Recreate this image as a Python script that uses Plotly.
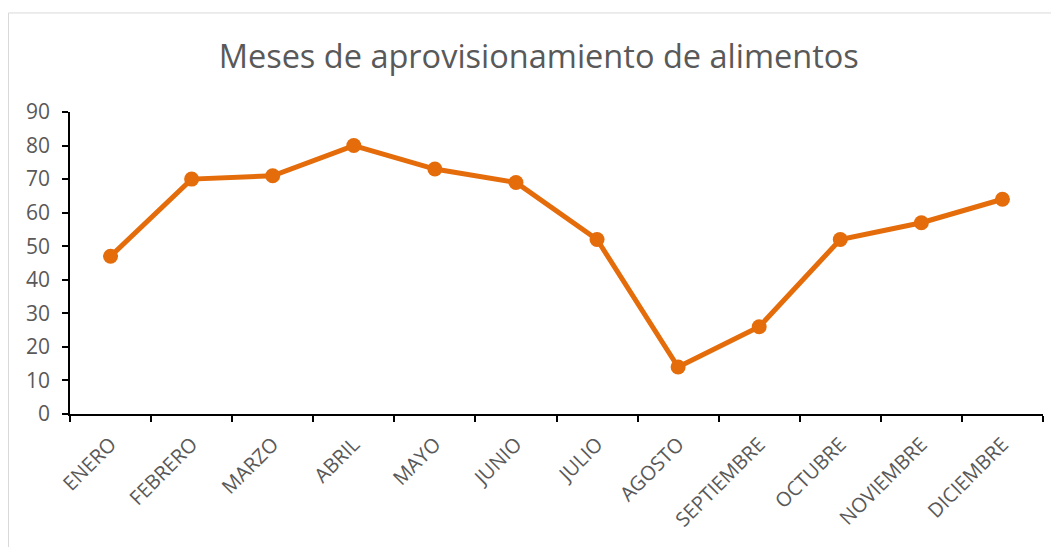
import plotly.graph_objects as go

months = [
    "ENERO", "FEBRERO", "MARZO", "ABRIL", "MAYO", "JUNIO",
    "JULIO", "AGOSTO", "SEPTIEMBRE", "OCTUBRE", "NOVIEMBRE", "DICIEMBRE",
]
values = [47, 70, 71, 80, 73, 69, 52, 14, 26, 52, 57, 64]
y_ticks = [0, 10, 20, 30, 40, 50, 60, 70, 80, 90]

fig = go.Figure()

fig.add_trace(
    go.Scatter(
        x=months,
        y=values,
        mode="lines+markers",
        line={"color": "#E46C0A", "width": 5},
        marker={"color": "#E46C0A", "size": 15},
        showlegend=False,
        cliponaxis=False,
    )
)

# Outer chart border (Excel style)
fig.add_shape(
    type="rect",
    xref="paper",
    yref="paper",
    x0=-0.0632,
    x1=1.2,
    y0=-1.0,
    y1=1.328,
    line={"color": "#D9D9D9", "width": 1},
    layer="below",
)

fig.update_layout(
    width=1051,
    height=539,
    margin={"l": 62, "r": 16, "t": 104, "b": 133},
    paper_bgcolor="white",
    plot_bgcolor="white",
    font={"family": "Open Sans", "color": "#595959"},
    title={
        "text": "Meses de aprovisionamiento de alimentos",
        "x": 0.505,
        "xanchor": "center",
        "y": 0.909,
        "yanchor": "middle",
        "font": {"size": 32.5, "color": "#595959"},
    },
    xaxis={
        "type": "category",
        "range": [-0.5, 11.5],
        "tickangle": -45,
        "tickson": "boundaries",
        "ticks": "outside",
        "ticklen": 6,
        "tickcolor": "black",
        "tickwidth": 1.5,
        "showline": True,
        "linecolor": "black",
        "linewidth": 1.5,
        "showgrid": False,
        "ticklabelstandoff": 9,
        "tickfont": {"size": 20, "color": "#595959"},
    },
    yaxis={
        "range": [0, 90],
        "tickvals": y_ticks,
        "ticks": "outside",
        "ticklen": 6,
        "tickcolor": "black",
        "tickwidth": 1.5,
        "showline": True,
        "linecolor": "black",
        "linewidth": 1.5,
        "showgrid": False,
        "zeroline": False,
        "ticklabelstandoff": 8,
        "tickfont": {"size": 21, "color": "#595959"},
    },
)

fig.write_html("out.html")
